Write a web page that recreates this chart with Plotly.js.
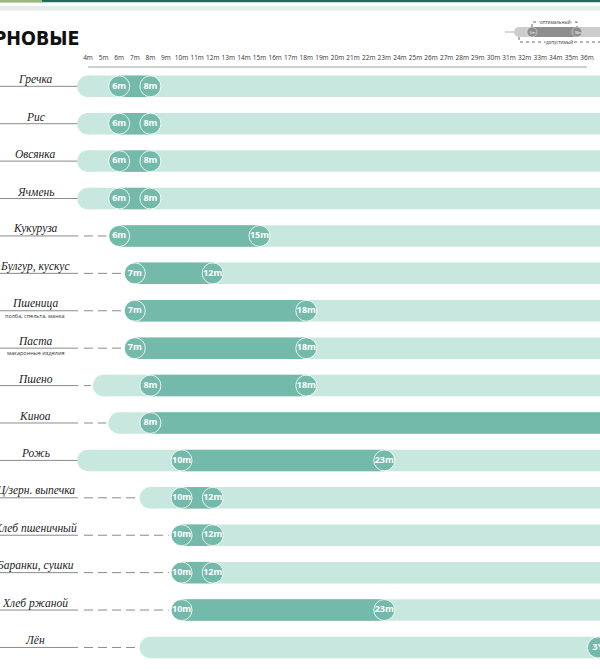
<!DOCTYPE html>
<html><head><meta charset="utf-8">
<script src="https://cdn.plot.ly/plotly-3.0.1.min.js"></script>
<style>html,body{margin:0;padding:0;background:#fff}#chart{width:600px;height:671px}</style>
</head><body><div id="chart"></div>
<script>
// ---- data ----
const foods = ["Гречка","Рис","Овсянка","Ячмень","Кукуруза","Булгур, кускус","Пшеница","Паста","Пшено","Киноа","Рожь","Ц/зерн. выпечка","Хлеб пшеничный","Баранки, сушки","Хлеб ржаной","Лён"];
const subLabels = ["","","","","","","полба, спельта, манка","макаронные изделия","","","","","","","",""];
const acceptableStart = [4,4,4,4,null,null,null,null,5,6,4,8,null,null,null,8];
const optimalStart = [6,6,6,6,6,7,7,7,8,8,10,10,10,10,10,36.7];
const optimalEnd = [8,8,8,8,15,12,18,18,18,null,23,12,12,12,23,null];
const startLabels = ["6m","6m","6m","6m","6m","7m","7m","7m","8m","8m","10m","10m","10m","10m","10m","3Y"];
const endLabels = ["8m","8m","8m","8m","15m","12m","18m","18m","18m","","23m","12m","12m","12m","23m",""];
const tickValues = [4,5,6,7,8,9,10,11,12,13,14,15,16,17,18,19,20,21,22,23,24,25,26,27,28,29,30,31,32,33,34,35,36];
const tickLabels = ["4m","5m","6m","7m","8m","9m","10m","11m","12m","13m","14m","15m","16m","17m","18m","19m","20m","21m","22m","23m","24m","25m","26m","27m","28m","29m","30m","31m","32m","33m","34m","35m","36m"];
const openEnd = 40;

// ---- layout constants ----
const W = 600, H = 671, TOP = 62;
const pxPerMonth = (587 - 88) / 32;
const xMin = 4 - 88 / pxPerMonth, xMax = 4 + (W - 88) / pxPerMonth;
const rowPx = 37.41, firstRowPx = 86.3 - TOP;
const plotH = H - TOP;
const yTop = -firstRowPx / rowPx, yBot = (plotH - firstRowPx) / rowPx;
const pxToM = px => xMin + px / pxPerMonth;
const P = px => px / W;
const Q = py => (H - py) / plotH;

const LIGHT = "#c8e8df", DARK = "#74baab", LINE = "#8a8a8a";
const barW = 21.5 / rowPx;
const capR = 10.5 / pxPerMonth;
const rows = foods.map((_, i) => i);

const traces = [];
// label underline (solid)
const sx = [], sy = [];
rows.forEach(i => { sx.push(xMin, pxToM(78), null); sy.push(i, i, null); });
traces.push({type:"scatter", mode:"lines", x:sx, y:sy, line:{color:LINE, width:1}, hoverinfo:"skip"});
// dashed leaders
const dx = [], dy = [];
rows.forEach(i => {
  const first = acceptableStart[i] != null ? acceptableStart[i] : optimalStart[i];
  const endM = first - capR - 0.15;
  if (endM > pxToM(86)) { dx.push(pxToM(84), endM, null); dy.push(i, i, null); }
});
traces.push({type:"scatter", mode:"lines", x:dx, y:dy, line:{color:LINE, width:1, dash:"9px,5px"}, hoverinfo:"skip"});

// acceptable (light) bars
const lightBase = rows.map(i => acceptableStart[i] != null ? acceptableStart[i] : optimalStart[i]);
traces.push({type:"bar", orientation:"h", y:rows, base:lightBase, x:lightBase.map(b => openEnd - b),
  width:barW, marker:{color:LIGHT, line:{width:0}}, hoverinfo:"skip"});
// optimal (dark) bars
traces.push({type:"bar", orientation:"h", y:rows, base:optimalStart,
  x:rows.map(i => (optimalEnd[i] != null ? optimalEnd[i] : openEnd) - optimalStart[i]),
  width:barW, marker:{color:DARK, line:{width:0}}, hoverinfo:"skip"});
// light rounded caps
const capRows = rows.filter(i => acceptableStart[i] != null);
traces.push({type:"scatter", mode:"markers", x:capRows.map(i => acceptableStart[i]), y:capRows,
  marker:{size:21.5, color:LIGHT, line:{width:0}}, hoverinfo:"skip"});
// start circles
const circleFont = {family:"Open Sans, sans-serif", size:9, color:"#ffffff", weight:700};
traces.push({type:"scatter", mode:"markers+text", x:optimalStart, y:rows, text:startLabels,
  textposition:"middle center", textfont:circleFont,
  marker:{size:21, color:DARK, line:{color:"rgba(255,255,255,0.85)", width:1}}, hoverinfo:"skip"});
// end circles
const endRows = rows.filter(i => optimalEnd[i] != null);
traces.push({type:"scatter", mode:"markers+text", x:endRows.map(i => optimalEnd[i]), y:endRows,
  text:endRows.map(i => endLabels[i]), textposition:"middle center", textfont:circleFont,
  marker:{size:21, color:DARK, line:{color:"rgba(255,255,255,0.85)", width:1}}, hoverinfo:"skip"});

// ---- annotations ----
const annotations = [];
rows.forEach(i => {
  annotations.push({xref:"paper", yref:"y", x:P(35), y:i, xanchor:"center", yanchor:"middle", yshift:7,
    text:foods[i], showarrow:false,
    font:{family:"Liberation Serif, DejaVu Serif, serif", size:11.5, style:"italic", color:"#222"}});
  if (subLabels[i]) annotations.push({xref:"paper", yref:"y", x:P(35), y:i, xanchor:"center", yanchor:"middle", yshift:-5,
    text:subLabels[i], showarrow:false, font:{family:"Open Sans, sans-serif", size:5.5, color:"#333"}});
});
annotations.push({xref:"paper", yref:"paper", x:P(81), y:Q(39), xanchor:"right", yanchor:"middle",
  text:"ЗЕРНОВЫЕ", showarrow:false,
  font:{family:"DejaVu Sans Condensed, Liberation Sans Narrow, sans-serif", size:19.5, weight:700, color:"#111"}});
// legend texts
annotations.push({xref:"paper", yref:"paper", x:P(555), y:Q(22), xanchor:"center", yanchor:"middle", text:"оптимальный",
  showarrow:false, bgcolor:"#fff", borderpad:0, font:{family:"Open Sans, sans-serif", size:4.5, color:"#333"}});
annotations.push({xref:"paper", yref:"paper", x:P(559), y:Q(42), xanchor:"center", yanchor:"middle", text:"допустимый",
  showarrow:false, bgcolor:"#fff", borderpad:0, font:{family:"Open Sans, sans-serif", size:4.5, color:"#333"}});
annotations.push({xref:"paper", yref:"paper", x:P(532), y:Q(32), xanchor:"center", yanchor:"middle", text:"6m",
  showarrow:false, font:{family:"Open Sans, sans-serif", size:3.5, color:"#fff"}});
annotations.push({xref:"paper", yref:"paper", x:P(577), y:Q(32), xanchor:"center", yanchor:"middle", text:"18m",
  showarrow:false, font:{family:"Open Sans, sans-serif", size:3.5, color:"#fff"}});

// ---- shapes ----
const shapes = [
  {type:"rect", xref:"paper", yref:"paper", x0:0, x1:1, y0:Q(0), y1:Q(2.2), fillcolor:"#1f6c5e", line:{width:0}},
  {type:"rect", xref:"paper", yref:"paper", x0:0, x1:P(42), y0:Q(0), y1:Q(2.2), fillcolor:"#9db77c", line:{width:0}},
  {type:"rect", xref:"paper", yref:"paper", x0:0, x1:1, y0:Q(6), y1:Q(9), fillcolor:"#e3efe4", line:{width:0}},
  {type:"rect", xref:"paper", yref:"paper", x0:0, x1:1, y0:Q(9), y1:Q(10.5), fillcolor:"#ece8f1", line:{width:0}},
  // axis line
  {type:"line", xref:"x", yref:"paper", x0:tickValues[0], x1:tickValues[tickValues.length-1], y0:Q(67), y1:Q(67),
    line:{color:"#bdbdbd", width:1.5}},
  // legend
  {type:"line", xref:"paper", yref:"paper", x0:P(505), x1:P(517), y0:Q(32), y1:Q(32), line:{color:"#b0b0b0", width:1}},
  {type:"circle", xref:"paper", yref:"paper", x0:P(514), x1:P(524), y0:Q(27), y1:Q(37), fillcolor:"#cdcdcd", line:{width:0}},
  {type:"rect", xref:"paper", yref:"paper", x0:P(519), x1:1, y0:Q(27), y1:Q(37), fillcolor:"#cdcdcd", line:{width:0}},
  {type:"rect", xref:"paper", yref:"paper", x0:P(532), x1:P(577), y0:Q(27), y1:Q(37), fillcolor:"#8e8e8e", line:{width:0}},
  {type:"circle", xref:"paper", yref:"paper", x0:P(527), x1:P(537), y0:Q(27), y1:Q(37), fillcolor:"#8e8e8e", line:{color:"#eee", width:0.5}},
  {type:"circle", xref:"paper", yref:"paper", x0:P(572), x1:P(582), y0:Q(27), y1:Q(37), fillcolor:"#8e8e8e", line:{color:"#eee", width:0.5}},
  {type:"path", xref:"paper", yref:"paper",
    path:`M ${P(532)} ${Q(27)} L ${P(532)} ${Q(22)} L ${P(577)} ${Q(22)} L ${P(577)} ${Q(27)}`,
    line:{color:"#444", width:0.8, dash:"dot"}},
  {type:"path", xref:"paper", yref:"paper",
    path:`M ${P(519)} ${Q(37)} L ${P(519)} ${Q(42)} L ${P(600)} ${Q(42)}`,
    line:{color:"#444", width:0.8, dash:"dot"}}
];

const layout = {
  width:W, height:H, margin:{l:0, r:0, t:TOP, b:0},
  paper_bgcolor:"#fff", plot_bgcolor:"#fff", showlegend:false, barmode:"overlay",
  xaxis:{range:[xMin, xMax], side:"top", tickvals:tickValues, ticktext:tickLabels, ticks:"",
    showgrid:false, zeroline:false, showline:false, fixedrange:true,
    tickfont:{family:"Open Sans, sans-serif", size:6.5, color:"#333"}},
  yaxis:{range:[yBot, yTop], visible:false, fixedrange:true},
  annotations, shapes
};
Plotly.newPlot("chart", traces, layout, {displayModeBar:false, staticPlot:true});
</script></body></html>
